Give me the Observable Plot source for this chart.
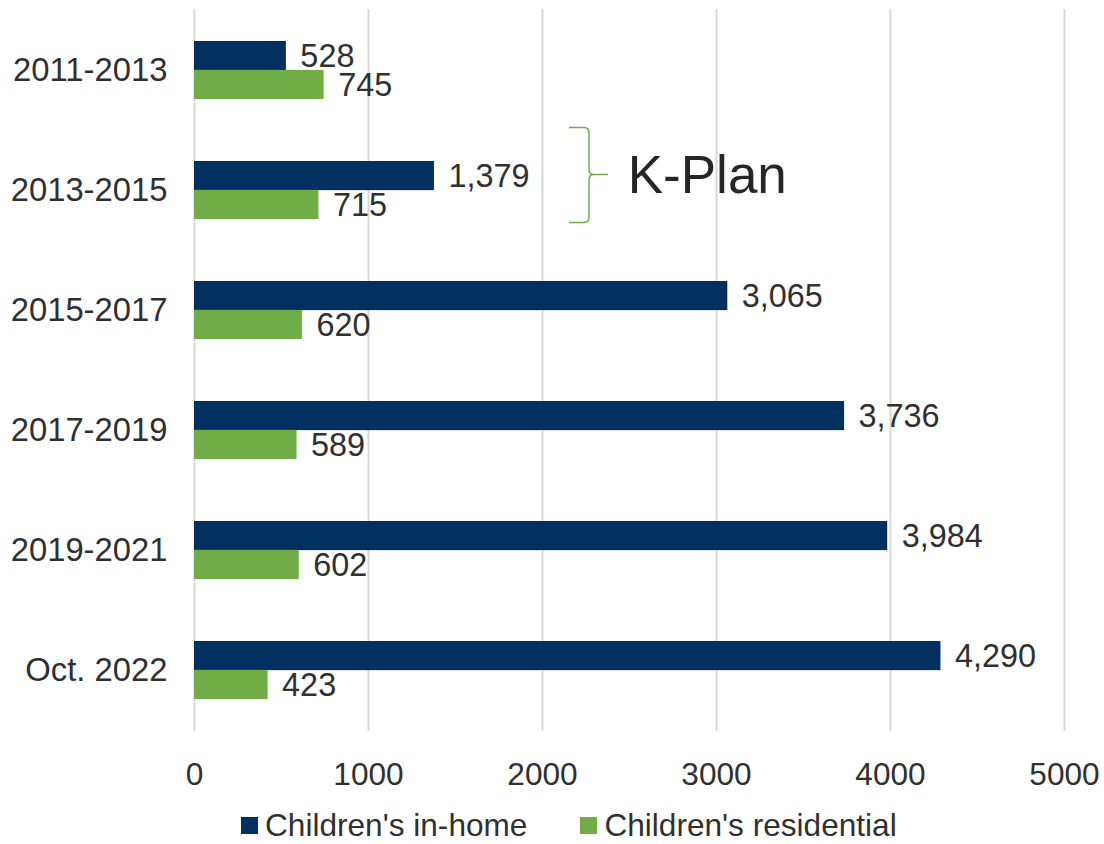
<!DOCTYPE html>
<html>
<head>
<meta charset="utf-8">
<script src="https://cdn.jsdelivr.net/npm/d3@7"></script>
<script src="https://cdn.jsdelivr.net/npm/@observablehq/plot@0.6"></script>
<style>
  html, body { margin: 0; padding: 0; background: #fff; overflow: hidden; }
  body { width: 1104px; font-family: "Liberation Sans", Arial, sans-serif; color: #303030; }
  #chart svg { display: block; }
  .legend { display: flex; align-items: center; padding-top: 7px; padding-left: 241px; height: 37px; font-size: 31.6px; line-height: 37px; }
  .legend .item { display: flex; align-items: center; }
  .legend .swatch { width: 17px; height: 17px; margin-right: 7px; }
  .legend .item + .item { margin-left: 53px; }
</style>
</head>
<body>
<div id="chart"></div>
<div class="legend" id="legend"></div>
<script>
// Periods shown on the vertical axis
const periods = ["2011-2013", "2013-2015", "2015-2017", "2017-2019", "2019-2021", "Oct. 2022"];
// Children served, by service type
const inHome = [528, 1379, 3065, 3736, 3984, 4290];
const residential = [745, 715, 620, 589, 602, 423];
const seriesNames = ["Children's in-home", "Children's residential"];
const seriesColors = ["#003060", "#70ad47"];
const xTicks = [0, 1000, 2000, 3000, 4000, 5000];

const width = 1104, height = 800;
const marginTop = 9, marginBottom = 69, marginLeft = 194, marginRight = 40;
const paddingInner = 0.52, paddingOuter = 0.26;
const step = (height - marginTop - marginBottom) / (periods.length - paddingInner + 2 * paddingOuter);
const bandwidth = step * (1 - paddingInner);
const half = bandwidth / 2;

const rows = periods.flatMap((p, i) => [
  {period: p, series: seriesNames[0], value: inHome[i]},
  {period: p, series: seriesNames[1], value: residential[i]}
]);
const homeRows = rows.filter(d => d.series === seriesNames[0]);
const resRows = rows.filter(d => d.series === seriesNames[1]);

// Curly brace grouping the 2013-2015 period under the K-Plan label
const brace = (index, scales, values, dimensions, context) => {
  const doc = context && context.document ? context.document : document;
  const x0 = scales.x(2155), xm = scales.x(2270), xt = scales.x(2379);
  const cy = scales.y("2013-2015") + half;
  const top = cy - 62.5, tip = cy - 15.5, bot = cy + 32.5;
  const r = 5;
  const d = `M${x0},${top} L${xm - r},${top} Q${xm},${top} ${xm},${top + r}` +
    ` L${xm},${tip - r} Q${xm},${tip} ${xm + r},${tip} L${xt},${tip}` +
    ` M${xm + r},${tip} Q${xm},${tip} ${xm},${tip + r}` +
    ` L${xm},${bot - r} Q${xm},${bot} ${xm - r},${bot} L${x0},${bot}`;
  const g = doc.createElementNS("http://www.w3.org/2000/svg", "g");
  const path = doc.createElementNS("http://www.w3.org/2000/svg", "path");
  path.setAttribute("d", d);
  path.setAttribute("fill", "none");
  path.setAttribute("stroke", "#70ad47");
  path.setAttribute("stroke-width", "1.5");
  g.appendChild(path);
  return g;
};

const fmt = d3.format(",");

const chart = Plot.plot({
  width, height, marginTop, marginBottom, marginLeft, marginRight,
  style: {fontFamily: "Liberation Sans, Arial, sans-serif", fontSize: "31.6px", color: "#303030", background: "#fff", overflow: "visible"},
  x: {domain: [0, 5000], ticks: xTicks, tickFormat: d => String(d), tickSize: 0, tickPadding: 31, label: null},
  y: {domain: periods, paddingInner, paddingOuter, tickSize: 0, tickPadding: 27, label: null},
  marks: [
    Plot.gridX(xTicks, {stroke: "#d9d9d9", strokeOpacity: 1, strokeWidth: 2}),
    Plot.barX(homeRows, {x: "value", y: "period", fill: seriesColors[0], insetBottom: half}),
    Plot.barX(resRows, {x: "value", y: "period", fill: seriesColors[1], insetTop: half}),
    Plot.text(homeRows, {x: "value", y: "period", text: d => fmt(d.value), textAnchor: "start", dx: 14, dy: -half / 2 + 1, fontSize: 32.4, fill: "#303030"}),
    Plot.text(resRows, {x: "value", y: "period", text: d => fmt(d.value), textAnchor: "start", dx: 14, dy: half / 2 + 1, fontSize: 32.4, fill: "#303030"}),
    brace,
    Plot.text(["K-Plan"], {x: 2490, y: () => "2013-2015", text: d => d, textAnchor: "start", dy: -14.5, fontSize: 53, fill: "#262626"})
  ]
});
// Period labels on the vertical axis are set a little larger
chart.querySelectorAll("[aria-label='y-axis tick label'] text").forEach(t => t.setAttribute("font-size", "32.8"));
document.getElementById("chart").appendChild(chart);

const legend = document.getElementById("legend");
seriesNames.forEach((name, i) => {
  const item = document.createElement("div");
  item.className = "item";
  const sw = document.createElement("span");
  sw.className = "swatch";
  sw.style.background = seriesColors[i];
  const label = document.createElement("span");
  label.textContent = name;
  item.appendChild(sw);
  item.appendChild(label);
  legend.appendChild(item);
});
</script>
</body>
</html>
